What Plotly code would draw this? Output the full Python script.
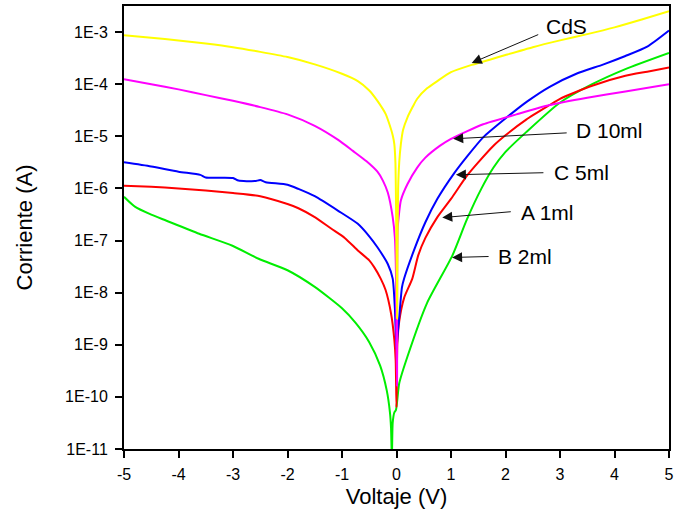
import numpy as np
import plotly.graph_objects as go

# ---------------- data (Voltage in V, log10 of current in A) ----------------
cds_v = [-5, -4.5, -4, -3.5, -3, -2.5, -2, -1.5, -1.0, -0.71, -0.5, -0.35, -0.2, -0.13,
         -0.07, -0.04, -0.02, -0.01, 0.0, 0.01, 0.02, 0.03, 0.05, 0.08, 0.12, 0.2, 0.3,
         0.38, 0.56, 0.75, 1.0, 1.38, 1.71, 2.0, 2.5, 3.0, 3.5, 4.0, 4.5, 5.0]
cds_log = [-3.06, -3.11, -3.16, -3.22, -3.29, -3.38, -3.48, -3.62, -3.80, -3.94, -4.12,
           -4.32, -4.57, -4.77, -4.98, -5.15, -5.5, -6.2, -7.3, -8.5, -7.0, -6.0, -5.5,
           -5.15, -4.88, -4.64, -4.43, -4.28, -4.08, -3.94, -3.77, -3.63, -3.53, -3.44,
           -3.29, -3.16, -3.04, -2.91, -2.76, -2.60]

d_v = [-5, -4.5, -4, -3.5, -3, -2.5, -2, -1.5, -1.07, -0.8, -0.55, -0.35, -0.25, -0.16,
       -0.07, -0.03, -0.01, 0.0, 0.01, 0.02, 0.05, 0.08, 0.2, 0.38, 0.53, 0.8, 1.0, 1.3,
       1.59, 2.2, 2.81, 3.5, 4.2, 5.0]
d_log = [-3.905, -4.00, -4.10, -4.21, -4.32, -4.44, -4.58, -4.80, -5.07, -5.28, -5.48,
         -5.68, -5.85, -6.08, -6.55, -6.94, -7.6, -9.0, -9.8, -6.8, -6.45, -6.23, -5.92,
         -5.60, -5.41, -5.18, -5.05, -4.90, -4.77, -4.58, -4.40, -4.26, -4.14, -4.0]

c_v = [-5, -4.5, -4, -3.6, -3.5, -3.0, -2.9, -2.6, -2.5, -2.4, -2.0, -1.8, -1.5, -1.07,
       -0.71, -0.5, -0.35, -0.16, -0.07, -0.03, 0.0, 0.02, 0.05, 0.1, 0.14, 0.32, 0.53,
       0.75, 1.05, 1.3, 1.59, 2.02, 2.4, 2.81, 3.3, 3.8, 4.2, 4.6, 5.0]
c_log = [-5.50, -5.58, -5.68, -5.74, -5.79, -5.80, -5.85, -5.86, -5.84, -5.88, -5.93,
         -6.01, -6.15, -6.43, -6.68, -6.92, -7.13, -7.45, -7.73, -8.3, -9.1, -8.8, -8.47,
         -7.9, -7.73, -7.19, -6.65, -6.2, -5.72, -5.38, -5.02, -4.64, -4.33, -4.05, -3.80,
         -3.62, -3.46, -3.28, -2.97]

a_v = [-5, -4.5, -4, -3.5, -3, -2.5, -2, -1.8, -1.5, -1.2, -0.95, -0.71, -0.5, -0.41,
       -0.29, -0.2, -0.1, -0.04, -0.015, 0.0, 0.015, 0.05, 0.14, 0.29, 0.4, 0.53, 0.75,
       1.0, 1.29, 1.5, 1.78, 2.0, 2.38, 2.81, 3.0, 3.59, 4.2, 4.6, 5.0]
a_log = [-5.95, -5.97, -6.00, -6.04, -6.09, -6.15, -6.30, -6.38, -6.55, -6.77, -6.95,
         -7.19, -7.38, -7.51, -7.73, -7.95, -8.4, -8.9, -9.3, -10.2, -9.0, -8.55, -8.1,
         -7.73, -7.28, -6.95, -6.55, -6.20, -5.76, -5.50, -5.18, -4.98, -4.68, -4.40,
         -4.28, -4.03, -3.84, -3.76, -3.68]

b_v = [-5, -4.8, -4.53, -4.22, -3.62, -3.01, -2.53, -2.0, -1.5, -1.0, -0.75, -0.5,
       -0.3, -0.18, -0.12, -0.1, -0.085, -0.07, -0.04, -0.01, 0.05, 0.2, 0.56, 1.02, 1.29,
       1.56, 1.78, 2.0, 2.38, 2.99, 3.59, 4.2, 5.0]
b_log = [-6.16, -6.35, -6.49, -6.62, -6.87, -7.10, -7.35, -7.57, -7.89, -8.30, -8.58,
         -8.95, -9.40, -9.87, -10.3, -10.6, -11.2, -10.5, -10.3, -10.25, -9.74,
         -9.23, -8.2, -7.3, -6.6, -6.0, -5.6, -5.3, -4.92, -4.36, -4.0, -3.71, -3.40]

series = [
    ("B 2ml", b_v, b_log, "#00EE00"),
    ("A 1ml", a_v, a_log, "#FF0000"),
    ("C 5ml", c_v, c_log, "#0000FF"),
    ("D 10ml", d_v, d_log, "#FF00FF"),
    ("CdS", cds_v, cds_log, "#FFFF00"),
]

# annotation labels: (text, text x [V], text log10 y, arrow head x [V], head log10 y, tail dx px, tail dy px)
labels = [
    ("CdS", 2.71, -2.885, 1.38, -3.593, 68, -29),
    ("D 10ml", 3.25, -4.895, 1.04, -5.048, 115, -6),
    ("C 5ml", 2.85, -5.70, 1.09, -5.737, 89, -2),
    ("A 1ml", 2.24, -6.464, 0.84, -6.56, 70, -6),
    ("B 2ml", 1.82, -7.306, 1.02, -7.325, 38, -1),
]

ytick_exp = [-11, -10, -9, -8, -7, -6, -5, -4, -3]
xtick_vals = [-5, -4, -3, -2, -1, 0, 1, 2, 3, 4, 5]
xtick_text = ["-5", "-4", "-3", "-2", "-1", "0", "1", "2", "3", "4", "5"]

FONT = "Arial, Liberation Sans, sans-serif"

fig = go.Figure()
for name, v, lg, col in series:
    fig.add_trace(go.Scatter(x=v, y=np.power(10.0, lg), mode="lines", name=name,
                             line=dict(color=col, width=2, shape="spline", smoothing=0.6),
                             showlegend=False))

for text, tx, ty, hx, hy, dx, dy in labels:
    fig.add_annotation(x=hx, y=hy, xref="x", yref="y", text="", showarrow=True,
                       ax=dx, ay=dy, arrowhead=2, arrowsize=2, arrowwidth=1,
                       arrowcolor="#111111", standoff=0, startstandoff=0)
    fig.add_annotation(x=tx, y=ty, xref="x", yref="y", text=text, showarrow=False,
                       xanchor="left", yanchor="middle",
                       font=dict(family=FONT, size=21, color="black"))

fig.update_layout(
    width=678, height=522,
    margin=dict(l=124, r=4, t=5, b=73),
    paper_bgcolor="white", plot_bgcolor="white",
    font=dict(family=FONT, color="black"),
)
fig.update_xaxes(range=[-5, 5], tickvals=xtick_vals, ticktext=xtick_text,
                 ticks="outside", ticklen=7, ticklabelstandoff=3,
                 tickwidth=2, tickcolor="black", showline=True, linewidth=2,
                 linecolor="black", mirror=True, showgrid=False, zeroline=False,
                 tickfont=dict(size=16), title=dict(text="Voltaje (V)",
                 font=dict(size=22), standoff=6))
fig.update_yaxes(type="log", range=[-11, -2.5],
                 tickvals=[10.0 ** e for e in ytick_exp],
                 ticktext=["1E%d" % e for e in ytick_exp],
                 ticks="outside", ticklen=7, tickwidth=2, tickcolor="black",
                 ticklabelstandoff=4,
                 showline=True, linewidth=2, linecolor="black", mirror=True,
                 showgrid=False, zeroline=False, tickfont=dict(size=16),
                 title=dict(text="Corriente (A)", font=dict(size=22), standoff=26))

fig.write_html("out.html")
